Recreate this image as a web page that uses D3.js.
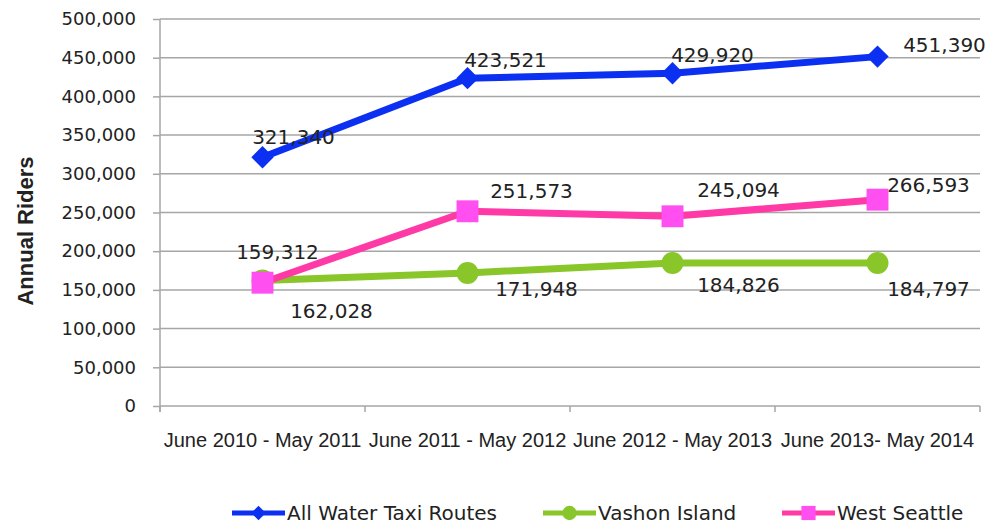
<!DOCTYPE html>
<html>

<head>
  <meta charset="utf-8">
  <style type="text/css">
    body {
      margin: 0;
      background: #fff;
    }
    svg text {
      fill: #222;
    }
  </style>
  <title>Water Taxi Riders</title>
</head>

<body>
  <script src="https://cdn.jsdelivr.net/npm/d3@7"></script>
  <script>
    // data
    var periods = ["June 2010 - May 2011", "June 2011 - May 2012", "June 2012 - May 2013", "June 2013- May 2014"];
    var allRoutes = [321340, 423521, 429920, 451390];
    var vashon = [162028, 171948, 184826, 184797];
    var westSeattle = [159312, 251573, 245094, 266593];
    var yTicks = [0, 50000, 100000, 150000, 200000, 250000, 300000, 350000, 400000, 450000, 500000];

    var margin = {
        top: 19,
        right: 21,
        bottom: 119,
        left: 160
      },
      width = 1001 - margin.left - margin.right,
      height = 525 - margin.top - margin.bottom;

    var svg = d3.select("body").append("svg")
      .attr("width", 1001)
      .attr("height", 525)
      .append("g")
      .attr("transform", "translate(" + margin.left + "," + margin.top + ")");

    var x = d3.scaleBand()
      .domain(periods)
      .range([0, width]);

    var y = d3.scaleLinear()
      .domain([0, 500000])
      .range([height, 0]);

    var fmt = d3.format(",");
    var gridColor = "#a6a6a6";

    // gridlines
    svg.append("g").selectAll("line")
      .data(yTicks.slice(1))
      .enter().append("line")
      .attr("x1", 0)
      .attr("x2", width)
      .attr("y1", d => y(d))
      .attr("y2", d => y(d))
      .attr("stroke", gridColor)
      .attr("stroke-width", 1.5);

    // y axis
    var yAxis = svg.append("g")
      .call(d3.axisLeft(y).tickValues(yTicks).tickFormat(fmt).tickSize(7).tickPadding(17));
    yAxis.selectAll("line, path").attr("stroke", gridColor).attr("stroke-width", 1.5);
    yAxis.select(".domain").attr("d", "M0," + (height + 6) + "V0");
    yAxis.selectAll("text")
      .attr("fill", "#222")
      .style("font-family", "DejaVu Sans")
      .style("font-size", "18px");

    // x axis: ticks on the category edges
    svg.append("line")
      .attr("x1", 0).attr("x2", width)
      .attr("y1", height).attr("y2", height)
      .attr("stroke", gridColor).attr("stroke-width", 1.5);

    var edges = periods.map(p => x(p)).concat([width]);
    svg.append("g").selectAll("line")
      .data(edges)
      .enter().append("line")
      .attr("x1", d => d).attr("x2", d => d)
      .attr("y1", height).attr("y2", height + 6)
      .attr("stroke", gridColor).attr("stroke-width", 1.5);

    svg.append("g").selectAll("text")
      .data(periods)
      .enter().append("text")
      .attr("x", d => x(d) + x.bandwidth() / 2)
      .attr("y", height + 34)
      .attr("dy", "0.35em")
      .attr("text-anchor", "middle")
      .style("font-family", "Liberation Sans")
      .style("font-size", "20px")
      .text(d => d);

    // axis title
    svg.append("text")
      .attr("transform", "translate(" + (33 - margin.left) + "," + (231 - margin.top) + ") rotate(-90)")
      .attr("text-anchor", "middle")
      .style("font-family", "Liberation Sans")
      .style("font-weight", "bold")
      .style("font-size", "22px")
      .text("Annual Riders");

    var series = [{
        name: "All Water Taxi Routes",
        values: allRoutes,
        line: "#0b30f2",
        fill: "#0b30f2",
        symbol: d3.symbolSquare,
        rotate: 45,
        size: 250,
        nudge: [[31, -20], [38, -18], [40, -18], [67, -12]]
      },
      {
        name: "Vashon Island",
        values: vashon,
        line: "#88c62a",
        fill: "#88c62a",
        symbol: d3.symbolCircle,
        rotate: 0,
        size: 380,
        nudge: [[69, 30], [69, 16], [66, 22], [51, 26]]
      },
      {
        name: "West Seattle",
        values: westSeattle,
        line: "#ff3aa6",
        fill: "#ff4ff0",
        symbol: d3.symbolSquare,
        rotate: 0,
        size: 480,
        nudge: [[15, -31], [64, -20], [66, -26], [51, -15]]
      }
    ];

    var cx = i => x(periods[i]) + x.bandwidth() / 2;

    var line = d3.line()
      .x((d, i) => cx(i))
      .y(d => y(d));

    series.forEach(s => {
      svg.append("path").datum(s.values)
        .attr("d", line)
        .attr("fill", "none")
        .attr("stroke", s.line)
        .attr("stroke-width", 7)
        .attr("stroke-linejoin", "round");

      svg.append("g").selectAll("path")
        .data(s.values)
        .enter().append("path")
        .attr("d", d3.symbol().type(s.symbol).size(s.size))
        .attr("transform", (d, i) => "translate(" + cx(i) + "," + y(d) + ") rotate(" + s.rotate + ")")
        .attr("fill", s.fill);
    });

    // value labels
    series.forEach(s => {
      svg.append("g").selectAll("text")
        .data(s.values)
        .enter().append("text")
        .attr("x", (d, i) => cx(i) + s.nudge[i][0])
        .attr("y", (d, i) => y(d) + s.nudge[i][1])
        .attr("dy", "0.35em")
        .attr("text-anchor", "middle")
        .style("font-family", "DejaVu Sans")
        .style("font-size", "20px")
        .text(d => fmt(d));
    });

    // legend
    var legendX = [232 - margin.left, 543 - margin.left, 782 - margin.left];
    var legend = svg.append("g")
      .attr("transform", "translate(0," + (513 - margin.top) + ")");

    series.forEach((s, i) => {
      var g = legend.append("g").attr("transform", "translate(" + legendX[i] + ",0)");
      g.append("line")
        .attr("x1", 0).attr("x2", 53)
        .attr("stroke", s.line)
        .attr("stroke-width", 5);
      g.append("path")
        .attr("d", d3.symbol().type(s.symbol).size(s.size * 0.42))
        .attr("transform", "translate(26.5,0) rotate(" + s.rotate + ")")
        .attr("fill", s.fill);
      g.append("text")
        .attr("x", 55)
        .attr("dy", "0.35em")
        .style("font-family", "DejaVu Sans")
        .style("font-size", "20px")
        .attr("fill", "#333")
        .text(s.name);
    });
  </script>
</body>

</html>
